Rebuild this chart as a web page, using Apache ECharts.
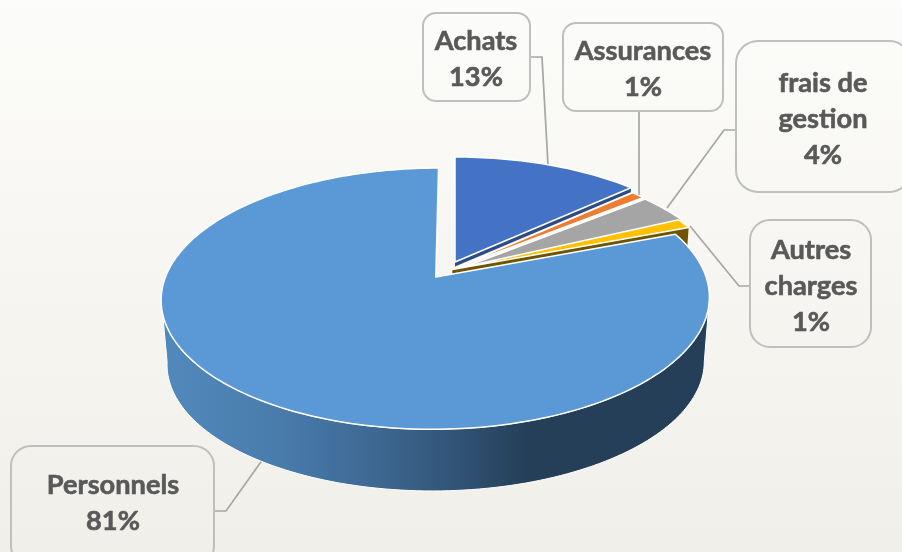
<!DOCTYPE html>
<html>
<head>
<meta charset="utf-8">
<title>Répartition des charges</title>
<script src="https://cdn.jsdelivr.net/npm/echarts@6/dist/echarts.min.js"></script>
<style>
  html, body { margin: 0; padding: 0; }
  #main { width: 902px; height: 552px; }
</style>
</head>
<body>
<div id="main"></div>
<script>
// data (clockwise from 12 o'clock)
const categories = ['Achats', 'Assurances', 'frais de gestion', 'Autres charges', 'Personnels'];
const values = [13.2, 1.0, 3.8, 1.2, 80.8];
const labelLines = [['Achats'], ['Assurances'], ['frais de', 'gestion'], ['Autres', 'charges'], ['Personnels']];

// colours
const sliceColors = ['#4472c4', '#ed7d31', '#a5a5a5', '#ffc000', '#5b99d6'];
const faceColors = ['#2c4c86', null, null, '#6f5500', null];

// 3d look: the disc is drawn in perspective, centre of the pie at originX/originY
const originX = 455, originY = 262;
const scaleX = 265, scaleY = 122.1, persp = 0.163;
const dropY = 65, lowScale = 0.98;
// small shift of each slice on the disc, personnel is the pulled out one
const sliceShift = [[0, 0], [0, 0.05], [0.005, 0.066], [-0.01, 0.06], [-0.071, 0.12]];
const faceDepth = [0.07, 0, 0, 1, 0];

// label boxes [x, y, w, h, radius], centre x and first line centre y
const boxes = [
  [423, 13, 107, 88, 13],
  [563, 23, 160, 88, 13],
  [736, 41, 175, 151, 22],
  [750, 220, 121, 127, 20],
  [11, 446, 203, 120, 20]
];
const textX = [476, 643, 823, 811, 113];
const textY = [41, 51, 83, 250, 485];
const leaders = [
  [[530, 57], [542, 57], [548, 165]],
  [[639, 111], [639, 195]],
  [[736, 130], [724, 130], [667, 208]],
  [[750, 286], [739, 286], [690, 226]],
  [[214, 511], [226, 511], [263, 459]]
];

const total = values.reduce((a, b) => a + b, 0);

function project(u, v, low) {
  const w = 1 - persp * v;
  let x = scaleX * u / w;
  let y = scaleY * v / w;
  if (low) {
    x *= lowScale;
    y = y * lowScale + dropY;
  }
  return [originX + x, originY + y];
}

// angle is in radians, clockwise from the top of the disc
function rimPoint(angle, shift, low) {
  return project(shift[0] + Math.sin(angle), shift[1] - Math.cos(angle), low);
}

function arc(from, to, shift, low) {
  const steps = Math.max(4, Math.ceil(Math.abs(to - from) * 40));
  const pts = [];
  for (let i = 0; i <= steps; i++) {
    pts.push(rimPoint(from + (to - from) * i / steps, shift, low));
  }
  return pts;
}

function renderSlice(params, api) {
  const i = params.dataIndex;
  const shift = sliceShift[i];
  let before = 0;
  for (let k = 0; k < i; k++) before += values[k];
  const start = before / total * Math.PI * 2;
  const end = (before + api.value(0)) / total * Math.PI * 2;
  const centre = project(shift[0], shift[1], false);
  const children = [];

  // the big slice has the outer wall
  if (i === values.length - 1) {
    const top = arc(Math.PI * 0.55, Math.PI * 1.45, shift, false);
    const low = arc(Math.PI * 1.45, Math.PI * 0.55, shift, true);
    children.push({
      type: 'polygon',
      shape: { points: top.concat(low) },
      style: {
        fill: new echarts.graphic.LinearGradient(0, 0, 1, 0, [
          { offset: 0, color: '#5289bc' },
          { offset: 0.2, color: '#4a7dae' },
          { offset: 0.4, color: '#3d6791' },
          { offset: 0.52, color: '#33567a' },
          { offset: 0.67, color: '#243f57' },
          { offset: 1, color: '#243f57' }
        ]),
        stroke: '#fff',
        lineWidth: 1
      }
    });
  }

  // cut face seen under the end edge of a slice
  if (faceDepth[i] > 0) {
    const rim = rimPoint(end, shift, false);
    const rimLow = rimPoint(end, shift, true);
    const cLow = project(shift[0], shift[1], true);
    const d = faceDepth[i];
    const mix = (a, b) => [a[0] + (b[0] - a[0]) * d, a[1] + (b[1] - a[1]) * d];
    children.push({
      type: 'polygon',
      shape: { points: [centre, rim, mix(rim, rimLow), mix(centre, cLow)] },
      style: { fill: faceColors[i] }
    });
  }

  children.push({
    type: 'polygon',
    shape: { points: [centre].concat(arc(start, end, shift, false)) },
    style: { fill: sliceColors[i], stroke: '#fff', lineWidth: 1.5, lineJoin: 'round' }
  });
  return { type: 'group', children: children };
}

function buildLabels() {
  const items = [];
  categories.forEach((name, i) => {
    const b = boxes[i];
    items.push({
      type: 'polyline',
      z: 1,
      shape: { points: leaders[i] },
      style: { stroke: '#a6a6a6', lineWidth: 1.7, fill: null }
    });
    items.push({
      type: 'rect',
      z: 1,
      shape: { x: b[0], y: b[1], width: b[2], height: b[3], r: b[4] },
      style: { fill: 'transparent', stroke: '#bfbfbf', lineWidth: 2 }
    });
    const lines = labelLines[i].concat([Math.round(values[i]) + '%']);
    lines.forEach((line, k) => {
      items.push({
        type: 'text',
        z: 3,
        x: textX[i],
        y: textY[i] + k * 36,
        style: {
          text: line,
          fill: '#595959',
          stroke: '#595959',
          lineWidth: 0.6,
          font: 'bold 27.2px Lato, "Open Sans", sans-serif',
          align: 'center',
          verticalAlign: 'middle'
        }
      });
    });
  });
  return items;
}

const chart = echarts.init(document.getElementById('main'), null, { renderer: 'canvas' });
chart.setOption({
  animation: false,
  backgroundColor: {
    type: 'linear', x: 0, y: 0, x2: 0, y2: 1,
    colorStops: [
      { offset: 0, color: '#fcfcfa' },
      { offset: 1, color: '#f1efe9' }
    ]
  },
  graphic: buildLabels(),
  series: [{
    type: 'custom',
    coordinateSystem: 'none',
    z: 2,
    silent: true,
    renderItem: renderSlice,
    data: categories.map((name, i) => ({ name: name, value: [values[i]] }))
  }]
});
</script>
</body>
</html>
